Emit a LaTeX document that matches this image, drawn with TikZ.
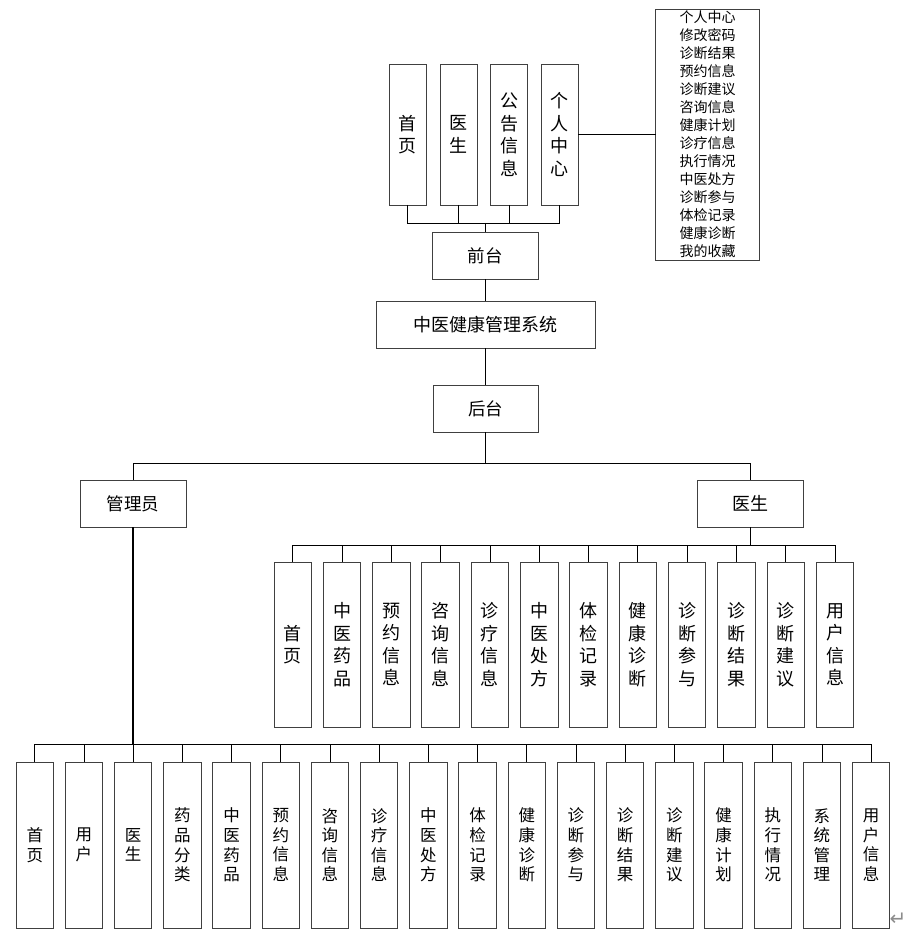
\documentclass[tikz,border=0pt]{standalone}
\usepackage{fontspec}
\newfontfamily\cjk{Noto Sans CJK SC}
\newfontfamily\dejavu{DejaVu Sans}
\begin{document}
\begin{tikzpicture}[x=1pt,y=-1pt,
  box/.style={draw=black!75, line width=0.9pt, inner sep=0pt, outer sep=0pt, align=center, fill=white},
  topbox/.style={box, minimum width=37pt, minimum height=141pt, font=\cjk\fontsize{18}{22.5}\selectfont},
  docbox/.style={box, minimum width=37.5pt, minimum height=165pt, font=\cjk\fontsize{18}{22.5}\selectfont},
  admbox/.style={box, minimum width=37.5pt, minimum height=166pt, font=\cjk\fontsize{16.5}{19.6}\selectfont},
  hbox/.style={box, minimum height=47pt, font=\cjk\fontsize{17.5}{20}\selectfont},
  listbox/.style={box, minimum width=104pt, minimum height=251pt, font=\cjk\fontsize{14}{18}\selectfont},
  conn/.style={draw=black, line width=0.8pt},
  thickconn/.style={draw=black, line width=1.6pt},
  retmark/.style={text=black!45, inner sep=0pt, font=\dejavu\fontsize{20}{20}\selectfont}]
\useasboundingbox (0,0) rectangle (906,933);

% front-end row
\node[topbox] (t1) at (407.5,134.5) {首\\页};
\node[topbox] (t2) at (458.5,134.5) {医\\生};
\node[topbox] (t3) at (509,134.5) {公\\告\\信\\息};
\node[topbox] (t4) at (559.5,134.5) {个\\人\\中\\心};
\node[listbox] (list) at (707.5,134.5) {个人中心\\修改密码\\诊断结果\\预约信息\\诊断建议\\咨询信息\\健康计划\\诊疗信息\\执行情况\\中医处方\\诊断参与\\体检记录\\健康诊断\\我的收藏};
\draw[conn] (t4.east) -- (list.west);

\node[hbox, minimum width=106pt] (qt) at (485,255.5) {前台};
\coordinate (tb) at (485,223);
\draw[conn] (t1.south) |- (t4.south |- tb) -- (t4.south);
\draw[conn] (t2.south) -- (t2.south |- tb);
\draw[conn] (t3.south) -- (t3.south |- tb);
\draw[conn] (tb) -- (qt.north);

\node[hbox, minimum width=219pt, font=\cjk\fontsize{18}{20}\selectfont] (sys) at (485.5,324.5) {中医健康管理系统};
\draw[conn] (qt.south) -- (qt.south |- sys.north);

\node[hbox, minimum width=105pt] (ht) at (485.5,408.5) {后台};
\draw[conn] (sys.south) -- (ht.north);

\node[hbox, minimum width=106pt] (adm) at (133,503.5) {管理员};
\node[hbox, minimum width=106pt, font=\cjk\fontsize{18}{20}\selectfont] (doc) at (750,503.5) {医生};
\coordinate (mb) at (485.5,463);
\draw[conn] (ht.south) -- (mb);
\draw[conn] (adm.north) |- (doc.north |- mb) -- (doc.north);

% doctor functions
\foreach \i/\t in {0/{首\\页},1/{中\\医\\药\\品},2/{预\\约\\信\\息},3/{咨\\询\\信\\息},4/{诊\\疗\\信\\息},5/{中\\医\\处\\方},6/{体\\检\\记\\录},7/{健\\康\\诊\\断},8/{诊\\断\\参\\与},9/{诊\\断\\结\\果},10/{诊\\断\\建\\议},11/{用\\户\\信\\息}}
  \node[docbox] (d\i) at ({292.75+49.3*\i},644.5) {\t};
\coordinate (db) at (750,545);
\draw[conn] (doc.south) -- (db);
\draw[conn] (d0.north) |- (d11.north |- db) -- (d11.north);
\foreach \i in {1,...,10}
  \draw[conn] (d\i.north) -- (d\i.north |- db);

% admin functions
\foreach \i/\t in {0/{首\\页},1/{用\\户},2/{医\\生},3/{药\\品\\分\\类},4/{中\\医\\药\\品},5/{预\\约\\信\\息},6/{咨\\询\\信\\息},7/{诊\\疗\\信\\息},8/{中\\医\\处\\方},9/{体\\检\\记\\录},10/{健\\康\\诊\\断},11/{诊\\断\\参\\与},12/{诊\\断\\结\\果},13/{诊\\断\\建\\议},14/{健\\康\\计\\划},15/{执\\行\\情\\况},16/{系\\统\\管\\理},17/{用\\户\\信\\息}}
  \node[admbox] (a\i) at ({34.75+49.2*\i},845) {\t};
\coordinate (ab) at (133,744);
\draw[thickconn] (adm.south) -- (ab);
\draw[conn] (a0.north) |- (a17.north |- ab) -- (a17.north);
\foreach \i in {1,...,16}
  \draw[conn] (a\i.north) -- (a\i.north |- ab);

\node[retmark] (ret) at (898,919) {↵};
\end{tikzpicture}
\end{document}
